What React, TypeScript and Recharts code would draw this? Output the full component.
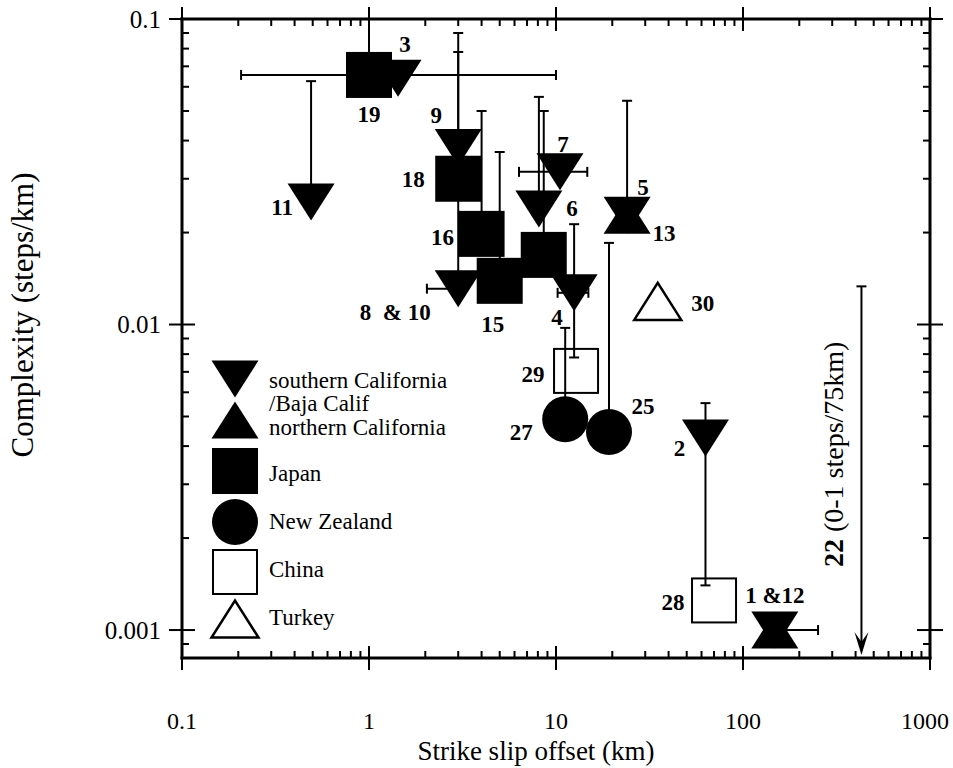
import React from 'react';
import { ScatterChart, Scatter, XAxis, YAxis, ErrorBar, ReferenceLine, Legend } from 'recharts';

const W = 953;
const H = 768;
const SERIF = '"Liberation Serif", "Times New Roman", serif';

// southern California / Baja California (filled, pointing down)
const socalLabels = ['3', '11', '9', '8  & 10', '7', '6', '4', '5', '2', '1 &12'];
const socalOffset = [1.43, 0.49, 3.0, 3.0, 10.5, 8.1, 12.5, 24, 63, 148];
const socalComplexity = [0.064, 0.0252, 0.038, 0.0131, 0.0316, 0.0239, 0.0127, 0.0228, 0.00425, 0.001];
const socalYLow = [null, null, null, null, null, null, 0.0078, null, 0.0014, null];
const socalYHigh = [null, 0.0626, 0.09, 0.078, null, 0.0556, 0.0213, 0.054, 0.00553, null];
const socalXLow = [null, null, null, 2.04, 6.34, null, 10.2, null, null, null];
const socalXHigh = [null, null, null, null, 14.7, null, 14.9, null, null, 252];

// northern California (filled, pointing up)
const nocalLabels = ['13', ''];
const nocalOffset = [24, 148];
const nocalComplexity = [0.0228, 0.001];

// Japan
const japanLabels = ['19', '18', '16', '15', ''];
const japanOffset = [1.0, 3.0, 4.0, 5.0, 8.6];
const japanComplexity = [0.0656, 0.03, 0.0198, 0.0139, 0.0169];
const japanYHigh = [0.1, null, 0.05, 0.0367, 0.05];
const japanXLow = [0.207, null, null, null, null];
const japanXHigh = [10, null, null, null, null];

// New Zealand
const nzLabels = ['27', '25'];
const nzOffset = [11.2, 19.2];
const nzComplexity = [0.0049, 0.00445];
const nzYHigh = [0.00975, 0.0185];

// China
const chinaLabels = ['29', '28'];
const chinaOffset = [12.8, 70];
const chinaComplexity = [0.00705, 0.00125];

// Turkey
const turkeyLabels = ['30'];
const turkeyOffset = [35];
const turkeyComplexity = [0.0119];

// fault 22: 0-1 steps over 75 km
const fault22Offset = 430;
const fault22Max = 1 / 75;

const legendNames = ['southern California', '/Baja Calif', 'northern California', 'Japan', 'New Zealand', 'China', 'Turkey'];

const xTicks = [
  0.1, 0.2, 0.3, 0.4, 0.5, 0.6, 0.7, 0.8, 0.9,
  1, 2, 3, 4, 5, 6, 7, 8, 9,
  10, 20, 30, 40, 50, 60, 70, 80, 90,
  100, 200, 300, 400, 500, 600, 700, 800, 900, 1000,
];
const xMajor = [0.1, 1, 10, 100, 1000];
const yTicks = [
  0.0009, 0.001, 0.002, 0.003, 0.004, 0.005, 0.006, 0.007, 0.008, 0.009,
  0.01, 0.02, 0.03, 0.04, 0.05, 0.06, 0.07, 0.08, 0.09, 0.1,
];
const yMajor = [0.001, 0.01, 0.1];

const X_DOMAIN = [0.1, 1000];
const Y_DOMAIN = [0.00081, 0.1];

// label placement relative to marker centre
const LABEL_POS: Record<string, [number, number]> = {
  '3': [7, -34], '11': [-29, 6], '9': [-22, -32], '8  & 10': [-63, 24], '7': [3, -27],
  '6': [33, 0], '4': [-17, 25], '5': [16, -28], '2': [-26, 10], '1 &12': [0, -35],
  '13': [37, 18], '19': [0, 40], '18': [-45, 1], '16': [-39, 4], '15': [-7, 44],
  '27': [-44, 13], '25': [34, -25], '29': [-43, 4], '28': [-41, 2], '30': [45, 2],
};

const TRI_W = 47;
const TRI_H = 37;
const SQ = 46;
const R = 23;

const rows = (labels: string[], xs: number[], ys: number[]) =>
  labels.map((label, i) => ({ label, x: xs[i], y: ys[i] }));

const socal = rows(socalLabels, socalOffset, socalComplexity);
const nocal = rows(nocalLabels, nocalOffset, nocalComplexity);
const japan = rows(japanLabels, japanOffset, japanComplexity);
const nz = rows(nzLabels, nzOffset, nzComplexity);
const china = rows(chinaLabels, chinaOffset, chinaComplexity);
const turkey = rows(turkeyLabels, turkeyOffset, turkeyComplexity);

type Bound = number | null;
function errRows(xs: number[], ys: number[], lo: Bound[], hi: Bound[], axis: 'x' | 'y') {
  const out: any[] = [];
  xs.forEach((x, i) => {
    const l = lo[i];
    const h = hi[i];
    if (l == null && h == null) return;
    const v = axis === 'x' ? x : ys[i];
    out.push({ x, y: ys[i], err: [l == null ? 0 : v - l, h == null ? 0 : h - v] });
  });
  return out;
}

const none = (n: number) => Array(n).fill(null);
const yErrData = [
  ...errRows(socalOffset, socalComplexity, socalYLow, socalYHigh, 'y'),
  ...errRows(japanOffset, japanComplexity, none(5), japanYHigh, 'y'),
  ...errRows(nzOffset, nzComplexity, none(2), nzYHigh, 'y'),
];
const xErrData = [
  ...errRows(socalOffset, socalComplexity, socalXLow, socalXHigh, 'x'),
  ...errRows(japanOffset, japanComplexity, japanXLow, japanXHigh, 'x'),
];

const isMajor = (v: number, majors: number[]) => majors.some((m) => Math.abs(m - v) < m * 1e-6);

function downTri(cx: number, cy: number) {
  return `M${cx - TRI_W / 2},${cy - TRI_H / 2} L${cx + TRI_W / 2},${cy - TRI_H / 2} L${cx},${cy + TRI_H / 2} Z`;
}
function upTri(cx: number, cy: number) {
  return `M${cx - TRI_W / 2},${cy + TRI_H / 2} L${cx + TRI_W / 2},${cy + TRI_H / 2} L${cx},${cy - TRI_H / 2} Z`;
}

function PointLabel({ cx, cy, text }: { cx: number; cy: number; text: string }) {
  if (!text) return null;
  const [dx, dy] = LABEL_POS[text] || [0, 0];
  return (
    <text x={cx + dx} y={cy + dy} textAnchor="middle" dominantBaseline="central"
      fontFamily={SERIF} fontWeight="bold" fontSize={23} fill="#000" style={{ whiteSpace: 'pre' }}>
      {text}
    </text>
  );
}

const makeShape = (kind: string) => (p: any) => {
  const { cx, cy, payload } = p;
  let mark;
  if (kind === 'down') mark = <path d={downTri(cx, cy)} fill="#000" />;
  else if (kind === 'up') mark = <path d={upTri(cx, cy)} fill="#000" />;
  else if (kind === 'square') mark = <rect x={cx - SQ / 2} y={cy - SQ / 2} width={SQ} height={SQ} fill="#000" />;
  else if (kind === 'circle') mark = <circle cx={cx} cy={cy} r={R} fill="#000" />;
  else if (kind === 'openSquare')
    mark = <rect x={cx - SQ / 2 + 1} y={cy - SQ / 2 + 1} width={SQ - 2} height={SQ - 2} fill="none" stroke="#000" strokeWidth={2} />;
  else mark = <path d={upTri(cx, cy)} fill="none" stroke="#000" strokeWidth={2.5} />;
  return (
    <g>
      {mark}
      <PointLabel cx={cx} cy={cy} text={payload.label} />
    </g>
  );
};

const Blank = () => <g />;

function BottomTick({ x, y, payload }: any) {
  const major = isMajor(payload.value, xMajor);
  return (
    <g>
      <line x1={x} x2={x} y1={y - (major ? 12 : 7)} y2={y + (major ? 12 : 0)} stroke="#000" strokeWidth={2} />
      {major && (
        <text x={Math.min(x, W - 28)} y={y + 63} textAnchor="middle" dominantBaseline="central" fontFamily={SERIF} fontSize={24} fill="#000">
          {String(payload.value)}
        </text>
      )}
    </g>
  );
}
function TopTick({ x, y, payload }: any) {
  const major = isMajor(payload.value, xMajor);
  return <line x1={x} x2={x} y1={y - (major ? 12 : 0)} y2={y + (major ? 12 : 7)} stroke="#000" strokeWidth={2} />;
}
function LeftTick({ x, y, payload }: any) {
  const major = isMajor(payload.value, yMajor);
  return (
    <g>
      <line x1={x - (major ? 13 : 0)} x2={x + (major ? 13 : 7)} y1={y} y2={y} stroke="#000" strokeWidth={2} />
      {major && (
        <text x={x - 21} y={y} textAnchor="end" dominantBaseline="central" fontFamily={SERIF} fontSize={25} fill="#000">
          {String(payload.value)}
        </text>
      )}
    </g>
  );
}
function RightTick({ x, y, payload }: any) {
  const major = isMajor(payload.value, yMajor);
  return <line x1={x - (major ? 13 : 7)} x2={x + (major ? 13 : 0)} y1={y} y2={y} stroke="#000" strokeWidth={2} />;
}

function XTitle({ viewBox }: any) {
  return (
    <text x={viewBox.x + viewBox.width / 2 - 20} y={viewBox.y + 93} textAnchor="middle" dominantBaseline="central"
      fontFamily={SERIF} fontSize={27} fill="#000">
      Strike slip offset (km)
    </text>
  );
}
function YTitle() {
  return (
    <text x={22} y={315} transform="rotate(-90 22 315)" textAnchor="middle" dominantBaseline="central"
      fontFamily={SERIF} fontSize={31} fill="#000">
      Complexity (steps/km)
    </text>
  );
}

function Fault22(p: any) {
  const { x1, y1, y2 } = p;
  const top = Math.min(y1, y2);
  const bot = Math.max(y1, y2);
  const tx = x1 - 28;
  const ty = top + 168;
  return (
    <g>
      <line x1={x1} x2={x1} y1={top} y2={bot - 8} stroke="#000" strokeWidth={2} />
      <line x1={x1 - 5} x2={x1 + 5} y1={top} y2={top} stroke="#000" strokeWidth={2} />
      <path d={`M${x1 - 7},${bot - 26} L${x1},${bot - 3} L${x1 + 7},${bot - 26} L${x1},${bot - 16} Z`} fill="#000" />
      <text x={tx} y={ty} transform={`rotate(-90 ${tx} ${ty})`} textAnchor="middle" dominantBaseline="central"
        fontFamily={SERIF} fontSize={28} fill="#000">
        <tspan fontWeight="bold">22</tspan> (0-1 steps/75km)
      </text>
    </g>
  );
}

function LegendBox() {
  const sx = 30;
  const tx = 64;
  const t = (s: string, y: number) => (
    <text key={s} x={tx} y={y} dominantBaseline="central" fontFamily={SERIF} fontSize={23} fill="#000">{s}</text>
  );
  return (
    <svg width={290} height={290} style={{ display: 'block', overflow: 'visible' }}>
      <path d={downTri(sx, 24)} fill="#000" />
      <path d={upTri(sx, 65)} fill="#000" />
      {t(legendNames[0], 25)}
      {t(legendNames[1], 48)}
      {t(legendNames[2], 72)}
      <rect x={sx - SQ / 2} y={116 - SQ / 2} width={SQ} height={SQ} fill="#000" />
      {t(legendNames[3], 118)}
      <circle cx={sx} cy={167} r={R} fill="#000" />
      {t(legendNames[4], 166)}
      <rect x={sx - SQ / 2 + 1} y={217 - SQ / 2 + 1} width={SQ - 2} height={SQ - 2} fill="none" stroke="#000" strokeWidth={2} />
      {t(legendNames[5], 214)}
      <path d={upTri(sx, 264)} fill="none" stroke="#000" strokeWidth={2.5} />
      {t(legendNames[6], 262)}
    </svg>
  );
}

const FRAME = { stroke: '#000', strokeWidth: 3, strokeLinecap: 'square' as const };

export default function App() {
  return (
    <div style={{ position: 'absolute', left: 0, top: 0, width: W, height: H, background: '#fff' }}>
      <ScatterChart width={W} height={H} margin={{ top: 0, right: 0, bottom: 0, left: 0 }}>
        <XAxis xAxisId="b" type="number" dataKey="x" scale="log" domain={X_DOMAIN} allowDataOverflow
          ticks={xTicks} interval={0} orientation="bottom" height={110} tickSize={0} tickMargin={0}
          tickLine={false} tick={BottomTick} axisLine={FRAME} label={{ content: XTitle }} />
        <XAxis xAxisId="t" type="number" dataKey="x" scale="log" domain={X_DOMAIN} allowDataOverflow
          ticks={xTicks} interval={0} orientation="top" height={19} tickSize={0} tickMargin={0}
          tickLine={false} tick={TopTick} axisLine={FRAME} />
        <YAxis yAxisId="l" type="number" dataKey="y" scale="log" domain={Y_DOMAIN} allowDataOverflow
          ticks={yTicks} interval={0} orientation="left" width={182} tickSize={0} tickMargin={0}
          tickLine={false} tick={LeftTick} axisLine={FRAME} label={{ content: YTitle }} />
        <YAxis yAxisId="r" type="number" dataKey="y" scale="log" domain={Y_DOMAIN} allowDataOverflow
          ticks={yTicks} interval={0} orientation="right" width={23} tickSize={0} tickMargin={0}
          tickLine={false} tick={RightTick} axisLine={FRAME} />

        <Scatter data={yErrData} xAxisId="b" yAxisId="l" shape={Blank} isAnimationActive={false}>
          <ErrorBar dataKey="err" direction="y" width={5} stroke="#000" strokeWidth={2} isAnimationActive={false} />
        </Scatter>
        <Scatter data={xErrData} xAxisId="b" yAxisId="l" shape={Blank} isAnimationActive={false}>
          <ErrorBar dataKey="err" direction="x" width={5} stroke="#000" strokeWidth={2} isAnimationActive={false} />
        </Scatter>

        <ReferenceLine xAxisId="b" yAxisId="l" segment={[{ x: fault22Offset, y: fault22Max }, { x: fault22Offset, y: Y_DOMAIN[0] }]}
          shape={Fault22} />

        <Scatter name="southern California/Baja Calif" data={socal} xAxisId="b" yAxisId="l" shape={makeShape('down')} isAnimationActive={false} />
        <Scatter name="northern California" data={nocal} xAxisId="b" yAxisId="l" shape={makeShape('up')} isAnimationActive={false} />
        <Scatter name="Japan" data={japan} xAxisId="b" yAxisId="l" shape={makeShape('square')} isAnimationActive={false} />
        <Scatter name="New Zealand" data={nz} xAxisId="b" yAxisId="l" shape={makeShape('circle')} isAnimationActive={false} />
        <Scatter name="China" data={china} xAxisId="b" yAxisId="l" shape={makeShape('openSquare')} isAnimationActive={false} />
        <Scatter name="Turkey" data={turkey} xAxisId="b" yAxisId="l" shape={makeShape('openTri')} isAnimationActive={false} />

        <Legend content={LegendBox} layout="vertical" align="center" verticalAlign="middle"
          wrapperStyle={{ left: 205, top: 355, width: 290, height: 290 }} />
      </ScatterChart>
    </div>
  );
}
